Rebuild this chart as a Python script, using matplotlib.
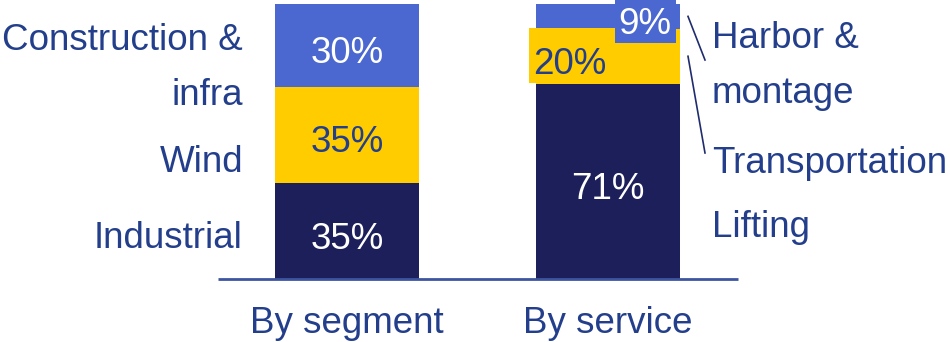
import numpy as np
import matplotlib.pyplot as plt
from matplotlib.patches import Rectangle

plt.rcParams['font.family'] = ['Liberation Sans', 'DejaVu Sans']

# data
categories = ['By segment', 'By service']
segment_names = ['Industrial', 'Wind', 'Construction &\ninfra']
segment_vals = [35, 35, 30]
service_names = ['Lifting', 'Transportation', 'Harbor &\nmontage']
service_vals = [71, 20, 9]

navy = '#1C1F5A'
yellow = '#FFCC00'
blue = '#4A68D0'
txt = '#233F8C'
colors = [navy, yellow, blue]
label_colors = ['white', txt, 'white']

W, H = 950, 342
fig = plt.figure(figsize=(W / 100, H / 100), dpi=100)

# axes: baseline at y=279px, 100% at y=4px; bar centres at x=347px and 608px
base_px, top_px = 279, 4
ax = fig.add_axes([0, (H - base_px) / H, 1, (base_px - top_px) / H])
unit = 261.0
ax.set_xlim(-347 / unit, (W - 347) / unit)
ax.set_ylim(0, 100)
ax.axis('off')
bw = 144 / unit


def fx(x):
    return x / W


def fy(y):
    return 1 - y / H


def px_box(x0, y0, x1, y1, color):
    # background box for an offset label, in pixel coords from top-left
    fig.patches.append(Rectangle((fx(x0), fy(y1)), fx(x1) - fx(x0), fy(y0) - fy(y1),
                                 transform=fig.transFigure, fc=color, ec='none',
                                 zorder=3))


fs = 26.5

stacks = [segment_vals, service_vals]
for i, vals in enumerate(stacks):
    bottom = 0
    for j, v in enumerate(vals):
        ax.bar(i, v, bw, bottom=bottom, color=colors[j], linewidth=0)
        bottom += v

# axis line
ax.plot([(218 - 347) / unit, (738 - 347) / unit], [0, 0], color='#3D55A0',
        lw=2, solid_capstyle='butt', clip_on=False)

# percent labels, left bar
cum = np.cumsum([0] + segment_vals)
for j, v in enumerate(segment_vals):
    mid = (cum[j] + cum[j + 1]) / 2
    ax.text(0, mid - 3, f'{v}%', ha='center', va='center', fontsize=fs,
            color=label_colors[j])

# right bar
cum2 = np.cumsum([0] + service_vals)
mid0 = (cum2[0] + cum2[1]) / 2
ax.text(1, mid0 - 3, f'{service_vals[0]}%', ha='center', va='center',
        fontsize=fs, color='white')
px_box(529, 28, 615, 83, yellow)
fig.text(fx(533), fy(65), f'{service_vals[1]}%', ha='left', va='center',
         fontsize=fs, color=txt, zorder=4)
px_box(615, 0, 676, 43, blue)
fig.text(fx(645), fy(24), f'{service_vals[2]}%', ha='center', va='center',
         fontsize=fs, color='white', zorder=4)

# left category labels
left_lines = [('Construction &', 50), ('infra', 105), ('Wind', 172), ('Industrial', 248)]
for s, yb in left_lines:
    fig.text(fx(243), fy(yb), s, ha='right', va='baseline', fontsize=fs, color=txt)

right_lines = [('Harbor &', 48), ('montage', 103), ('Transportation', 173), ('Lifting', 237)]
for s, yb in right_lines:
    fig.text(fx(712), fy(yb), s, ha='left', va='baseline', fontsize=fs, color=txt)

# leader lines from segment mids to the right labels
x0 = 1 + bw / 2 + 8 / unit
x1 = 1 + bw / 2 + 25 / unit
for j, yend_px in [(2, 60), (1, 153)]:
    mid = (cum2[j] + cum2[j + 1]) / 2
    yend = (base_px - yend_px) / (base_px - top_px) * 100
    ax.plot([x0, x1], [mid, yend], color='#1F2C6E', lw=1.2, clip_on=False)

# bar category labels
for i, c in enumerate(categories):
    ax.text(i, -19.5, c, ha='center', va='baseline', fontsize=fs, color=txt)

fig.savefig('out.png', dpi=100)
